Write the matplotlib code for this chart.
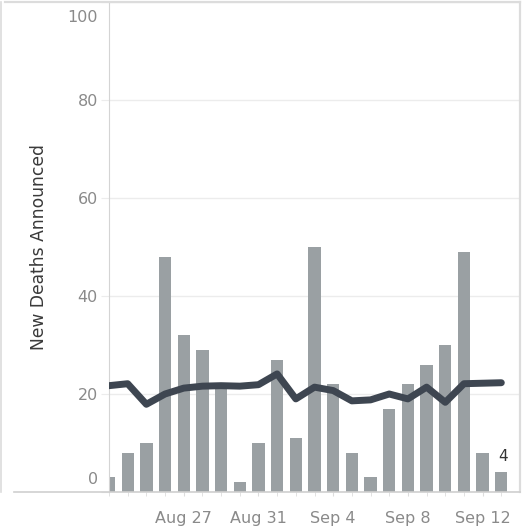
import matplotlib
matplotlib.use("Agg")
import matplotlib.pyplot as plt
import matplotlib.dates as mdates
from matplotlib.lines import Line2D
from matplotlib.transforms import ScaledTranslation
import pandas as pd

days = ["2020-08-23", "2020-08-24", "2020-08-25", "2020-08-26", "2020-08-27",
        "2020-08-28", "2020-08-29", "2020-08-30", "2020-08-31", "2020-09-01",
        "2020-09-02", "2020-09-03", "2020-09-04", "2020-09-05", "2020-09-06",
        "2020-09-07", "2020-09-08", "2020-09-09", "2020-09-10", "2020-09-11",
        "2020-09-12", "2020-09-13"]
new_deaths = [3, 8, 10, 48, 32, 29, 22, 2, 10, 27, 11, 50,
              22, 8, 3, 17, 22, 26, 30, 49, 8, 4]
rolling_avg = [21.7, 22.1, 17.9, 20.0, 21.2, 21.6, 21.7, 21.6, 21.9, 24.1, 19.0,
               21.4, 20.7, 18.6, 18.8, 20.0, 19.0, 21.4, 18.3, 22.1, 22.2, 22.3]
tick_days = ["2020-08-27", "2020-08-31", "2020-09-04", "2020-09-08", "2020-09-12"]
y_ticks = [0, 20, 40, 60, 80, 100]

dates = pd.to_datetime(days)
W, H = 529, 531
fig = plt.figure(figsize=(W / 100, H / 100), dpi=100)
ax = fig.add_axes([109 / W, (H - 492) / H, (520 - 109) / W, (492 - 2) / H])

ax.bar(dates, new_deaths, width=0.66, color="#9aa0a3", zorder=2)
ax.plot(dates, rolling_avg, color="#3e4651", lw=5, solid_joinstyle="round",
        solid_capstyle="round", zorder=3)
ax.annotate(str(new_deaths[-1]), (dates[-1], new_deaths[-1]), xytext=(1, 6),
            textcoords="offset points", ha="center", va="bottom",
            fontsize=11, color="#333333")

ax.set_xlim(dates[0] + pd.Timedelta(days=0.04), dates[0] + pd.Timedelta(days=22))
ax.set_ylim(0, 100)

ax.set_yticks(y_ticks)
ax.set_yticklabels([str(v) for v in y_ticks])
ax.grid(axis="y", color="#ececec", lw=1, zorder=0)
ax.tick_params(axis="y", length=6, color="#ececec", pad=2, labelsize=11.5,
               labelcolor="#8a8a8a")
labels = ax.get_yticklabels()
# first and last labels are pulled inside the plot, like the original
labels[0].set_transform(labels[0].get_transform()
                        + ScaledTranslation(0, 14 / 100, fig.dpi_scale_trans))
labels[-1].set_transform(labels[-1].get_transform()
                         + ScaledTranslation(0, -14 / 100, fig.dpi_scale_trans))

ax.set_xticks(pd.to_datetime(tick_days))
ax.xaxis.set_major_formatter(mdates.DateFormatter("%b %-d"))
ax.set_xticks(dates, minor=True)
ax.tick_params(axis="x", which="both", length=3, color="#dddddd", pad=11,
               labelsize=11.5, labelcolor="#8a8a8a")

ax.set_ylabel("New Deaths Announced", fontsize=12.3, color="#3a3a3a")
ax.yaxis.set_label_coords((48 - 109) / 411, 0.5)

for side in ["top", "right", "bottom"]:
    ax.spines[side].set_visible(False)
ax.spines["left"].set_color("#d4d4d4")

# pane borders and the baseline running under the y labels
def px_line(x0, y0, x1, y1, color, lw=1.0):
    fig.add_artist(Line2D([x0 / W, x1 / W], [(H - y0) / H, (H - y1) / H],
                          transform=fig.transFigure, color=color, lw=lw))

px_line(5, 2, 520, 2, "#dcdcdc", 1.6)
px_line(520, 2, 520, 492, "#dcdcdc", 1.6)
px_line(1, 2, 1, 492, "#dcdcdc", 1.2)
px_line(14, 492, 520, 492, "#cfcfcf", 1.2)

fig.savefig("out.png", dpi=100)
